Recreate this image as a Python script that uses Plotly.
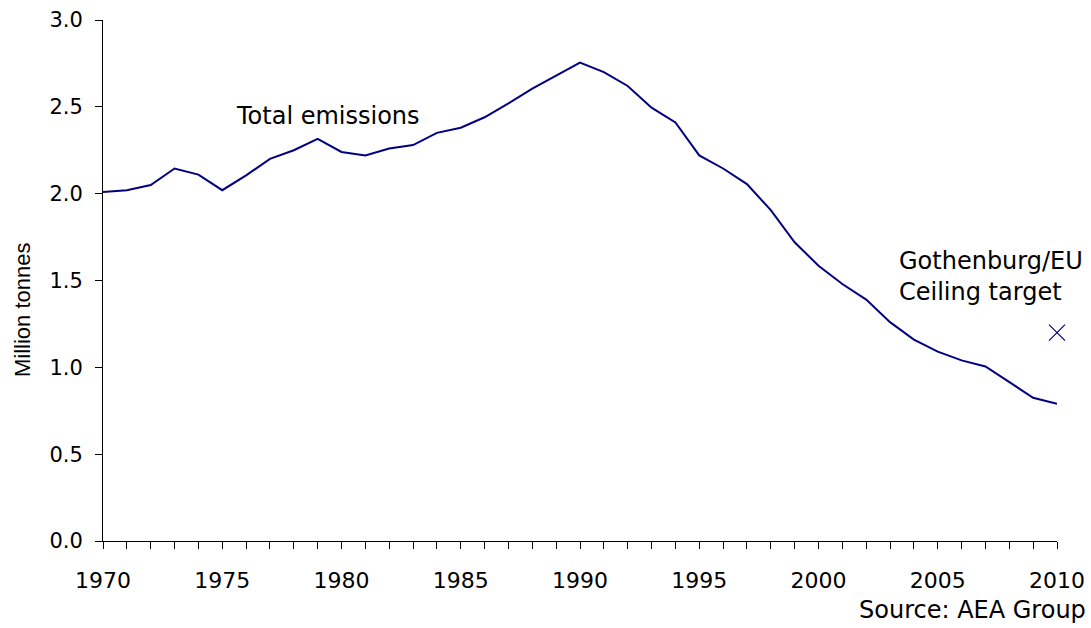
import plotly.graph_objects as go

years = list(range(1970, 2011))
emissions = [2.01, 2.02, 2.05, 2.145, 2.11, 2.02, 2.105, 2.20, 2.25, 2.315,
             2.24, 2.22, 2.26, 2.28, 2.35, 2.38, 2.44, 2.52, 2.605, 2.68,
             2.755, 2.70, 2.62, 2.495, 2.41, 2.22, 2.145, 2.055, 1.905, 1.72,
             1.585, 1.48, 1.39, 1.26, 1.16, 1.09, 1.04, 1.005, 0.915, 0.825,
             0.79]
target_year = [2010]
target_value = [1.2]
x_tick_labels = [str(y) if y % 5 == 0 else "" for y in years]
y_ticks = [0.0, 0.5, 1.0, 1.5, 2.0, 2.5, 3.0]

font = "DejaVu Sans, Verdana, sans-serif"
navy = "#000080"

fig = go.Figure()
fig.add_trace(go.Scatter(x=years, y=emissions, mode="lines",
                         line=dict(color=navy, width=2), showlegend=False))
fig.add_trace(go.Scatter(x=target_year, y=target_value, mode="markers",
                         cliponaxis=False,
                         marker=dict(symbol="x-thin-open", size=16, color=navy,
                                     line=dict(color=navy, width=1.2)),
                         showlegend=False))

fig.update_layout(
    width=1091, height=628,
    margin=dict(l=103, r=34, t=20, b=87, autoexpand=False),
    paper_bgcolor="white", plot_bgcolor="white",
    font=dict(family=font, size=21, color="black"),
)
fig.update_xaxes(range=[1970, 2010], tickmode="array", tickvals=years,
                 ticktext=x_tick_labels, ticks="outside", ticklen=7,
                 tickcolor="black", tickwidth=1, showline=True,
                 linecolor="black", linewidth=1, showgrid=False,
                 zeroline=False, ticklabelstandoff=13, automargin=False,
                 tickfont=dict(size=22))
fig.update_yaxes(range=[0, 3.0], tickmode="array", tickvals=y_ticks,
                 ticktext=[f"{v:.1f}" for v in y_ticks], ticks="outside",
                 ticklen=7, tickcolor="black", tickwidth=1, showline=True,
                 linecolor="black", linewidth=1, showgrid=False,
                 zeroline=False, ticklabelstandoff=8, automargin=False,
                 tickfont=dict(size=21))

fig.add_annotation(x=1975.5, y=2.447, text="Total emissions", showarrow=False,
                   xanchor="left", yanchor="middle", font=dict(size=24))
fig.add_annotation(x=2003.3, y=1.523, text="Gothenburg/EU<br>Ceiling target",
                   showarrow=False, xanchor="left", yanchor="middle",
                   align="left", font=dict(size=24))
fig.add_annotation(xref="paper", yref="paper", x=1.032, y=-0.132,
                   text="Source: AEA Group", showarrow=False,
                   xanchor="right", yanchor="middle", font=dict(size=24))
fig.add_annotation(xref="paper", yref="paper", x=-0.085, y=0.445,
                   text="Million tonnes", showarrow=False, textangle=-90,
                   xanchor="center", yanchor="middle",
                   font=dict(family="Liberation Sans, Arial, sans-serif", size=22))

fig.write_html("out.html", config={"displayModeBar": False},
               post_script="document.body.style.margin='0';document.body.style.padding='0';")
